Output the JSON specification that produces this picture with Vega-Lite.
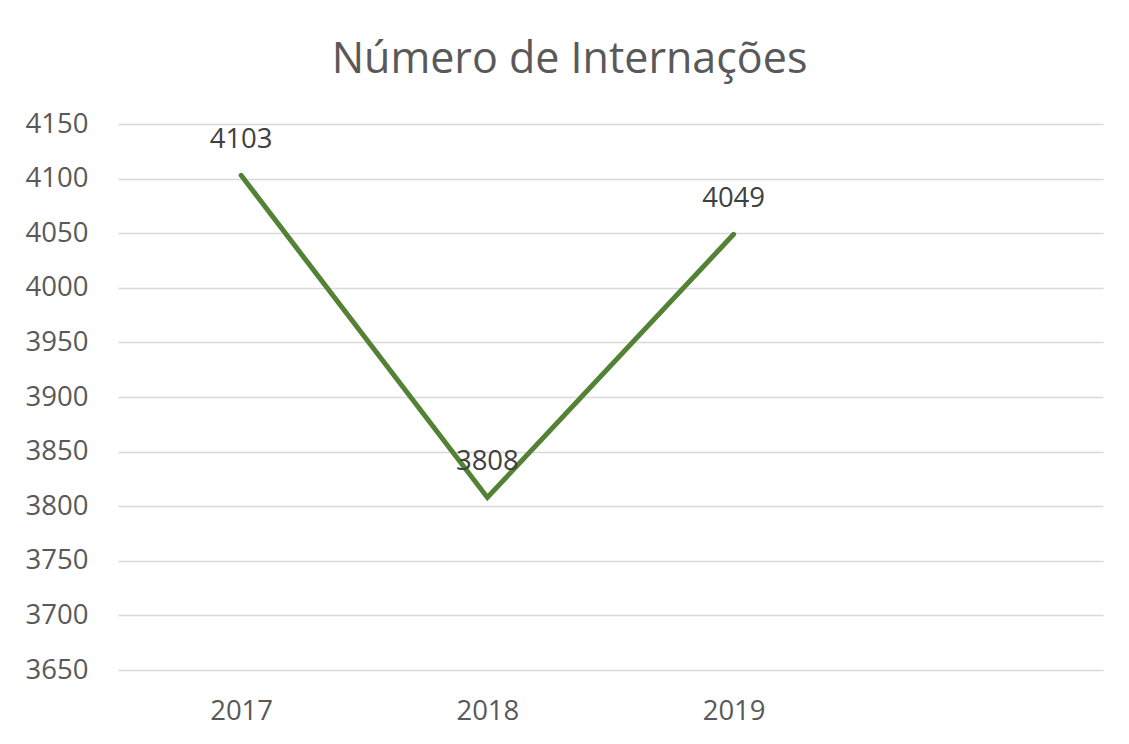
{
  "$schema": "https://vega.github.io/schema/vega-lite/v6.json",
  "width": 985,
  "height": 546,
  "autosize": {"type": "none"},
  "padding": {"left": 118, "top": 124, "right": 26, "bottom": 74},
  "background": "white",
  "title": {
    "text": "Número de Internações",
    "font": "Open Sans",
    "fontSize": 43,
    "fontWeight": "normal",
    "color": "#595959",
    "anchor": "middle",
    "frame": "group",
    "dx": -41,
    "offset": 28
  },
  "config": {
    "view": {"stroke": null},
    "font": "Open Sans"
  },
  "data": {
    "values": [
      {"year": 2017, "value": 4103},
      {"year": 2018, "value": 3808},
      {"year": 2019, "value": 4049}
    ]
  },
  "encoding": {
    "x": {
      "field": "year",
      "type": "quantitative",
      "scale": {"domain": [2016.5, 2020.5], "nice": false, "zero": false},
      "axis": {
        "title": null,
        "values": [2017, 2018, 2019],
        "format": "d",
        "grid": false,
        "domain": false,
        "ticks": false,
        "labelFont": "Open Sans",
        "labelFontSize": 27.5,
        "labelColor": "#595959",
        "labelPadding": 27
      }
    },
    "y": {
      "field": "value",
      "type": "quantitative",
      "scale": {"domain": [3650, 4150], "nice": false, "zero": false},
      "axis": {
        "title": null,
        "values": [3650, 3700, 3750, 3800, 3850, 3900, 3950, 4000, 4050, 4100, 4150],
        "format": "d",
        "grid": true,
        "gridColor": "#d9d9d9",
        "gridWidth": 1.5,
        "domain": false,
        "ticks": false,
        "labelFont": "Open Sans",
        "labelFontSize": 27.5,
        "labelColor": "#595959",
        "labelPadding": 30
      }
    }
  },
  "layer": [
    {
      "mark": {"type": "line", "color": "#548235", "strokeWidth": 5, "strokeCap": "round", "strokeJoin": "miter"}
    },
    {
      "mark": {"type": "text", "font": "Open Sans", "fontSize": 27.5, "color": "#404040", "baseline": "alphabetic", "dy": -27},
      "encoding": {"text": {"field": "value", "type": "quantitative", "format": "d"}}
    }
  ]
}
